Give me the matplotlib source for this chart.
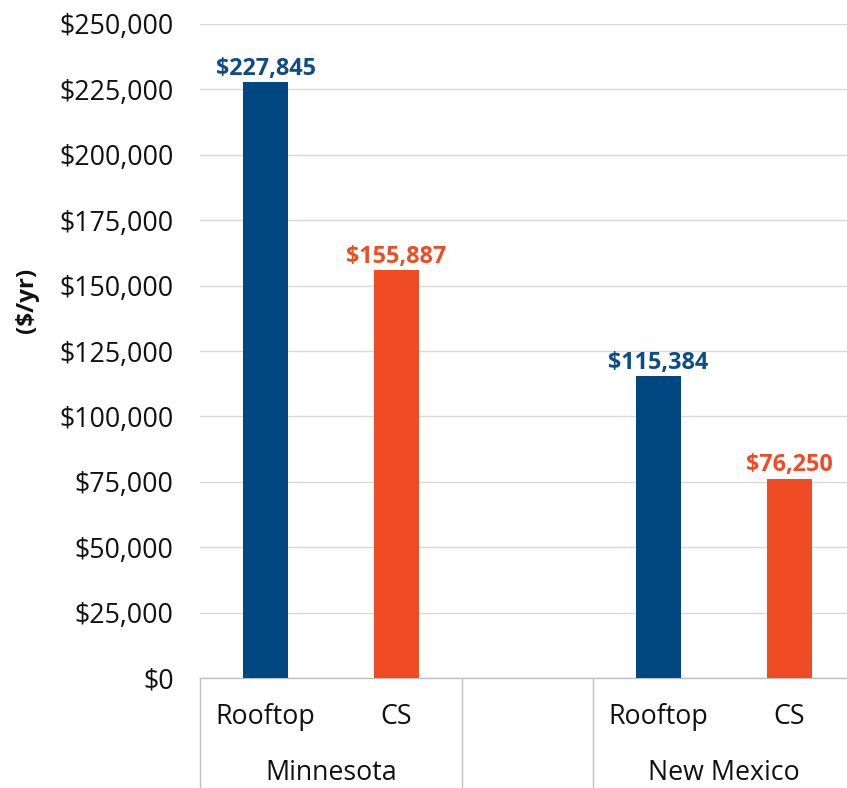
import matplotlib
matplotlib.use("Agg")
import matplotlib.pyplot as plt
from matplotlib.ticker import FuncFormatter, MultipleLocator
import matplotlib.transforms as mtransforms

plt.rcParams['font.family'] = ['Open Sans', 'DejaVu Sans']

categories = ["Rooftop", "CS", "", "Rooftop", "CS"]
values = [227845, 155887, None, 115384, 76250]
groups = ["Minnesota", "New Mexico"]
group_centers = [0.5, 3.5]
bar_colors = ["#004680", "#F04C23", None, "#004680", "#F04C23"]
label_colors = ["#0E4C86", "#F04C23", None, "#0E4C86", "#F04C23"]
separators = [-0.5, 1.5, 2.5, 4.5]

W, H = 847, 788
fig = plt.figure(figsize=(W / 100, H / 100), dpi=100)
left, right, top, bottom = 200, 855, 24, 678
ax = fig.add_axes([left / W, 1 - bottom / H, (right - left) / W, (bottom - top) / H])

FS = 19.3
for i, (v, c, lc) in enumerate(zip(values, bar_colors, label_colors)):
    if v is None:
        continue
    ax.bar(i, v, width=0.345, color=c, zorder=3)
    ax.annotate(f"${v:,.0f}", (i, v), xytext=(0, 1), textcoords="offset points",
                ha="center", va="bottom", fontsize=16.8, fontweight="bold", color=lc)

ax.set_xlim(-0.5, 4.5)
ax.set_ylim(0, 250000)
ax.yaxis.set_major_locator(MultipleLocator(25000))
ax.yaxis.set_major_formatter(FuncFormatter(lambda v, p: f"${v:,.0f}"))
ax.grid(axis="y", color="#D9D9D9", linewidth=1, zorder=0)
ax.tick_params(axis="y", length=0, labelsize=FS, pad=19, labelcolor="#111111")
ax.tick_params(axis="x", length=0, labelsize=FS, pad=18, labelcolor="#111111")
ax.set_xticks(range(len(categories)))
ax.set_xticklabels(categories)
for s in ["left", "right", "top"]:
    ax.spines[s].set_visible(False)
ax.spines["bottom"].set_color("#BFBFBF")
ax.spines["bottom"].set_linewidth(1)

trans = mtransforms.blended_transform_factory(ax.transData, ax.transAxes)
depth = (H - bottom) / (bottom - top)
for x in separators:
    ax.plot([x, x], [0, -depth], transform=trans, color="#BFBFBF", linewidth=1, clip_on=False)
for g, gx in zip(groups, group_centers):
    ax.text(gx, -(773 - bottom) / (bottom - top), g, transform=trans, ha="center", va="center",
            fontsize=FS, color="#111111")

fig.text(27 / W, 1 - 300 / H, "($/yr)", rotation=90, ha="center", va="center",
         fontsize=17.5, fontweight="bold", color="#111111")

fig.savefig("out.png", dpi=100)
